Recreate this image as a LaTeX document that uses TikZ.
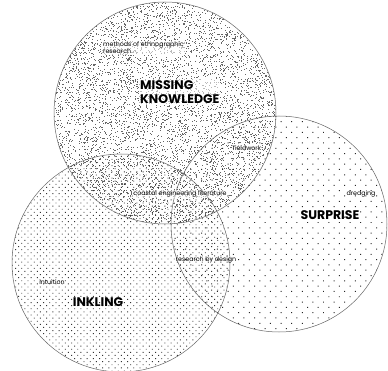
\documentclass[tikz,border=0pt]{standalone}
\usepackage{fontspec}
\setmainfont{Poppins}
\usetikzlibrary{patterns.meta}
\begin{document}
\begin{tikzpicture}[x=1pt,y=-1pt,
  ring/.style={circle, inner sep=0pt},
  outline/.style={draw=black!60, line width=0.5pt},
  small/.style={font=\fontsize{6.3}{7}\selectfont, inner sep=1pt},
  halo/.style={fill=white, fill opacity=0.55, text opacity=1},
  big/.style={font=\fontsize{12.5}{14.5}\selectfont\bfseries, inner sep=1pt}]
\useasboundingbox (0,0) rectangle (388,371);
\pgfmathsetseed{7}
\node[ring, minimum size=216pt, pattern={Dots[distance=7.5pt, radius=0.7pt, angle=45]}, pattern color=black!85] (surprise) at (279,224) {};
\node[ring, minimum size=218pt, pattern={Dots[distance=4.4pt, radius=0.65pt, angle=45]}, pattern color=black!80] (inkling) at (121,263) {};
\node[ring, minimum size=222pt] (missing) at (165,113) {};
\begin{scope}
  \clip (missing.center) circle (111pt);
  \foreach \i in {1,...,3500}{\fill[black!60] (54+222*rnd, 2+222*rnd) rectangle ++(0.5,0.5);}
\end{scope}
\begin{scope}
  \clip (missing.center) circle (111pt);
  \foreach \i in {1,...,3500}{\fill[black!60] (54+222*rnd, 2+222*rnd) rectangle ++(0.5,0.5);}
\end{scope}
\draw[outline] (surprise.center) circle (108pt);
\draw[outline] (inkling.center) circle (109pt);
\draw[outline] (missing.center) circle (111pt);
% labels
\node[small, halo, anchor=west, align=left] (meth) at (102,48) {methods of ethnographic\\research};
\node[big, halo, anchor=west, align=left] (mk) at (139,92) {MISSING\\KNOWLEDGE};
\node[small, halo] (field) at (247,148) {fieldwork};
\node[small, halo] (coast) at (180,194) {coastal engineering literature};
\node[small] (dredg) at (361,194) {dredging};
\node[big] (surp) at (330,215) {SURPRISE};
\node[small] (rbd) at (206,260) {research by design};
\node[small] (intu) at (52,282) {intuition};
\node[big] (inkl) at (98,302) {INKLING};
\end{tikzpicture}
\end{document}
